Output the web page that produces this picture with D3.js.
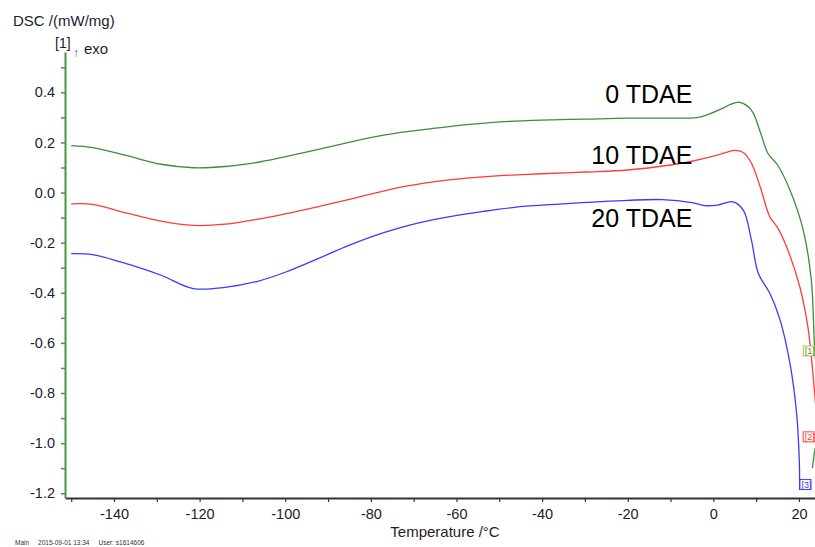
<!DOCTYPE html>
<html>
<head>
<meta charset="utf-8">
<script src="https://cdn.jsdelivr.net/npm/d3@7"></script>
<style>
  body { margin: 0; background: #fff; }
  svg { font-family: Arial, "Liberation Sans", sans-serif; }
</style>
</head>
<body>
<div class="chart"></div>
<script>
// Curve data (temperature in °C, DSC in mW/mg)
var temp0 = [-150, -145, -137, -129, -121.5, -114, -106, -98, -92, -88.7, -81, -73, -65.4, -57.6, -49.8, -40, -30, -20, -10, -4, -1.5, 2, 4, 6, 8, 9.3, 11, 12.8, 15, 17.9, 21, 22.9, 23.6, 24.4, 24.5, 24.1, 23.7, 23.15];
var dsc0  = [0.187, 0.179, 0.147, 0.113, 0.099, 0.104, 0.122, 0.15, 0.173, 0.186, 0.216, 0.24, 0.256, 0.271, 0.282, 0.289, 0.293, 0.297, 0.297, 0.299, 0.31, 0.335, 0.352, 0.361, 0.345, 0.318, 0.24, 0.155, 0.11, 0.01, -0.15, -0.35, -0.6, -0.8, -0.93, -1.0, -1.03, -1.1];

var temp10 = [-150, -145, -137, -129, -121.5, -114, -106, -98, -92, -85, -81, -73, -65.4, -57.6, -49.8, -40, -30, -20, -10, -5, 0, 3, 5, 7, 8.9, 11, 13.2, 15, 17.1, 20.2, 22.2, 23.4, 24.0, 24.6];
var dsc10  = [-0.045, -0.047, -0.082, -0.114, -0.131, -0.126, -0.105, -0.078, -0.055, -0.027, -0.01, 0.022, 0.043, 0.058, 0.068, 0.075, 0.082, 0.09, 0.11, 0.125, 0.145, 0.16, 0.168, 0.16, 0.117, 0.02, -0.097, -0.14, -0.216, -0.376, -0.549, -0.748, -0.87, -1.0];

var temp20 = [-150, -145, -138.5, -129, -121.5, -114, -106, -100, -92.5, -85, -77, -69.3, -61.5, -53.7, -46, -36, -28, -20, -12, -5, -2, 1, 4.6, 7, 8.9, 10.5, 13.2, 15.6, 17.9, 19.45, 20.1, 20.15];
var dsc20  = [-0.244, -0.248, -0.277, -0.33, -0.383, -0.378, -0.352, -0.318, -0.265, -0.21, -0.16, -0.123, -0.096, -0.075, -0.058, -0.046, -0.038, -0.031, -0.028, -0.04, -0.052, -0.05, -0.037, -0.07, -0.19, -0.322, -0.402, -0.509, -0.682, -0.881, -1.08, -1.187];

var seriesNames  = ["0 TDAE", "10 TDAE", "20 TDAE"];
var seriesColors = ["#3a8f3a", "#ff3b3b", "#3b3bff"];
// where the curve names sit (right end of text), in data units
var labelT = [-4.9, -4.9, -4.9];
var labelV = [0.357, 0.113, -0.138];
// segment markers [1] [2] [3] at the curve ends
var markerText = ["[1]", "[2]", "[3]"];
var markerT = [21.1, 21.1, 20.35];
var markerV = [-0.632, -0.975, -1.165];

var yTickValues = [-1.2, -1.1, -1.0, -0.9, -0.8, -0.7, -0.6, -0.5, -0.4, -0.3, -0.2, -0.1, 0.0, 0.1, 0.2, 0.3, 0.4, 0.5];
var yTickLabels = ["-1.2", "", "-1.0", "", "-0.8", "", "-0.6", "", "-0.4", "", "-0.2", "", "0.0", "", "0.2", "", "0.4", ""];
var xTickValues = [-150, -140, -130, -120, -110, -100, -90, -80, -70, -60, -50, -40, -30, -20, -10, 0, 10, 20];
var xTickLabels = ["", "-140", "", "-120", "", "-100", "", "-80", "", "-60", "", "-40", "", "-20", "", "0", "", "20"];

var svgWidth = 815;
var svgHeight = 547;
var margin = { top: 52, right: 0, bottom: 49, left: 65 };
var width = svgWidth - margin.left - margin.right;
var height = svgHeight - margin.top - margin.bottom;

var svg = d3.select(".chart")
    .append("svg")
    .attr("width", svgWidth)
    .attr("height", svgHeight);

var chartGroup = svg.append("g")
    .attr("transform", `translate(${margin.left}, ${margin.top})`);

var xScale = d3.scaleLinear().domain([-151.45, 23.75]).range([0, width]);
var yScale = d3.scaleLinear().domain([-1.219, 0.561]).range([height, 0]);

// clip so curves running past the right edge are cut like in the export
svg.append("defs").append("clipPath").attr("id", "plotClip")
    .append("rect").attr("x", 0).attr("y", -5).attr("width", width).attr("height", height + 5);

// axes
var bottomAxis = d3.axisBottom(xScale)
    .tickValues(xTickValues)
    .tickFormat((d, i) => xTickLabels[i])
    .tickSizeInner(4).tickSizeOuter(0).tickPadding(7);
var leftAxis = d3.axisLeft(yScale)
    .tickValues(yTickValues)
    .tickFormat((d, i) => yTickLabels[i])
    .tickSizeInner(4).tickSizeOuter(0).tickPadding(6);

var xAxisG = chartGroup.append("g")
    .attr("transform", `translate(0, ${height})`)
    .call(bottomAxis);
xAxisG.select(".domain").attr("stroke", "#333").attr("stroke-width", 2);
xAxisG.selectAll(".tick line").attr("stroke", "#333").attr("stroke-width", 1.2);
xAxisG.selectAll("text").style("font-size", "14.5px").attr("fill", "#1c1c2e");

var yAxisG = chartGroup.append("g").call(leftAxis);
yAxisG.select(".domain").attr("stroke", "#3c9c3c").attr("stroke-width", 2);
yAxisG.selectAll(".tick line").attr("stroke", "#3c9c3c").attr("stroke-width", 1.5);
yAxisG.selectAll("text").style("font-size", "14.5px").attr("fill", "#1c1c2e");

// curves
var line = d3.line()
    .x(d => xScale(d[0]))
    .y(d => yScale(d[1]))
    .curve(d3.curveCatmullRom.alpha(0.5));

var curves = [d3.zip(temp0, dsc0), d3.zip(temp10, dsc10), d3.zip(temp20, dsc20)];

chartGroup.append("g").attr("clip-path", "url(#plotClip)")
    .selectAll("path")
    .data(curves)
    .enter()
    .append("path")
    .attr("d", line)
    .attr("fill", "none")
    .attr("stroke", (d, i) => seriesColors[i])
    .attr("stroke-width", 1.3);

// segment markers
var markers = chartGroup.append("g")
    .selectAll("g")
    .data(markerText)
    .enter()
    .append("g")
    .attr("transform", (d, i) => `translate(${xScale(markerT[i])}, ${yScale(markerV[i])})`);
markers.append("rect")
    .attr("x", -0.5).attr("y", -5)
    .attr("width", 11).attr("height", 10)
    .attr("fill", "#fff")
    .attr("stroke", (d, i) => i == 0 ? "#c8b040" : seriesColors[i])
    .attr("stroke-width", 1);
markers.append("text")
    .attr("x", 1).attr("y", 3.5)
    .style("font-size", "9px")
    .attr("fill", (d, i) => seriesColors[i])
    .text(d => d);

// curve names
chartGroup.selectAll(".seriesName")
    .data(seriesNames)
    .enter()
    .append("text")
    .attr("class", "seriesName")
    .attr("x", (d, i) => xScale(labelT[i]))
    .attr("y", (d, i) => yScale(labelV[i]))
    .attr("text-anchor", "end")
    .style("font-size", "25px")
    .attr("fill", "#000")
    .text(d => d);

// axis titles
svg.append("text")
    .attr("x", 13).attr("y", 26)
    .style("font-size", "15px")
    .attr("fill", "#1c1c2e")
    .text("DSC /(mW/mg)");
svg.append("text")
    .attr("x", 55).attr("y", 48)
    .style("font-size", "14px")
    .attr("fill", "#1c1c2e")
    .text("[1]");
svg.append("text")
    .attr("x", 73).attr("y", 57)
    .style("font-size", "12px")
    .attr("fill", "#3a6a9a")
    .text("↑");
svg.append("text")
    .attr("x", 84).attr("y", 54)
    .style("font-size", "15px")
    .attr("fill", "#1c1c2e")
    .text("exo");

svg.append("text")
    .attr("x", 445).attr("y", 537)
    .attr("text-anchor", "middle")
    .style("font-size", "15px")
    .attr("fill", "#2a1c1c")
    .text("Temperature /°C");

// footer
svg.append("text")
    .attr("x", 15).attr("y", 545)
    .style("font-size", "6.5px")
    .attr("fill", "#333")
    .attr("xml:space", "preserve")
    .text("Main     2015-09-01 13:34     User: s1614606");
</script>
</body>
</html>
